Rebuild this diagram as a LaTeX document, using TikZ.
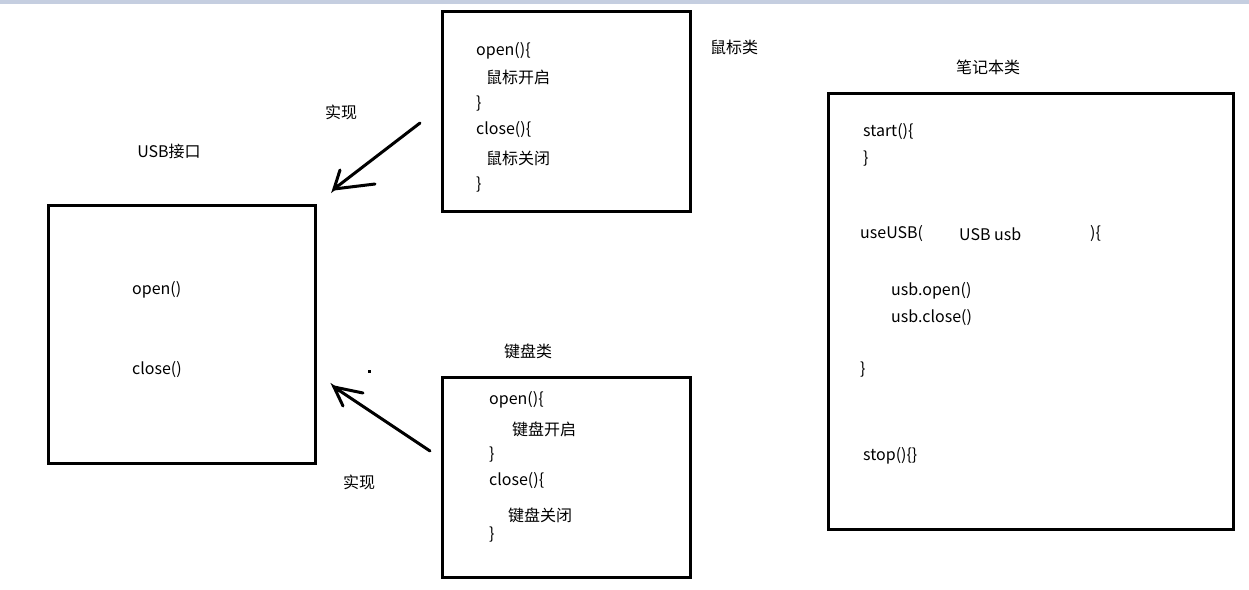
\documentclass[tikz,border=0pt]{standalone}
\usepackage{fontspec}
\setmainfont{Noto Sans CJK SC}
\begin{document}
\begin{tikzpicture}[x=1pt,y=-1pt,
  box/.style={draw=black,line width=3pt,fill=none,inner sep=0pt,outer sep=0pt,anchor=north west},
  txt/.style={anchor=west,inner sep=0pt,font=\fontsize{16}{18}\selectfont},
  ctxt/.style={anchor=center,inner sep=0pt,font=\fontsize{16}{18}\selectfont},
  pen/.style={draw=black,line width=3pt,line cap=round}]
\useasboundingbox (0,0) rectangle (1249,589);
\fill[fill={rgb,255:red,197;green,206;blue,224}] (0,0) rectangle (1249,4);
% boxes
\node[box,minimum width=267pt,minimum height=258pt] (usbbox) at (48,205) {};
\node[box,minimum width=248pt,minimum height=200pt] (mousebox) at (442,11) {};
\node[box,minimum width=248pt,minimum height=200pt] (keybox) at (442,377) {};
\node[box,minimum width=405pt,minimum height=436pt] (notebox) at (828,93) {};
% titles
\node[ctxt] (tusb) at (169,151) {USB接口};
\node[ctxt] (tmouse) at (734,47) {鼠标类};
\node[ctxt] (tkey) at (528,351) {键盘类};
\node[ctxt] (tnote) at (988,67) {笔记本类};
\node[ctxt] (impl1) at (341,112) {实现};
\node[ctxt] (impl2) at (359,482) {实现};
% USB interface
\node[txt] (u1) at (132,290) {open()};
\node[txt] (u2) at (132,370) {close()};
% mouse
\node[txt] (m1) at (476,51) {open()\{};
\node[txt] (m2) at (486,77) {鼠标开启};
\node[txt] (m3) at (476,104) {\}};
\node[txt] (m4) at (476,130) {close()\{};
\node[txt] (m5) at (486,158) {鼠标关闭};
\node[txt] (m6) at (476,185) {\}};
% keyboard
\node[txt] (k1) at (489,400) {open()\{};
\node[txt] (k2) at (512,429) {键盘开启};
\node[txt] (k3) at (489,455) {\}};
\node[txt] (k4) at (489,481) {close()\{};
\node[txt] (k5) at (508,515) {键盘关闭};
\node[txt] (k6) at (489,535) {\}};
% notebook
\node[txt] (n1) at (863,132) {start()\{};
\node[txt] (n2) at (863,159) {\}};
\node[txt] (n3) at (860,234) {useUSB(};
\node[txt] (n4) at (959,234) {USB usb};
\node[txt] (n5) at (1090,234) {)\{};
\node[txt] (n6) at (891,291) {usb.open()};
\node[txt] (n7) at (891,318) {usb.close()};
\node[txt] (n8) at (860,370) {\}};
\node[txt] (n9) at (863,456) {stop()\{\}};
% hand-drawn arrows
\coordinate (a1s) at (420,123);
\coordinate (a1e) at (334,189);
\coordinate (a1h1) at (340,170);
\coordinate (a1h2) at (375,184);
\draw[pen] (a1s) -- (a1e) -- (a1h1);
\draw[pen] (a1e) -- (a1h2);
\coordinate (a2s) at (430,451);
\coordinate (a2e) at (334,387);
\coordinate (a2h1) at (343,406);
\coordinate (a2h2) at (363,393);
\draw[pen] (a2s) -- (a2e) -- (a2h1);
\draw[pen] (a2e) -- (a2h2);
\fill[black] (368,370) rectangle (371,373);
\end{tikzpicture}
\end{document}
